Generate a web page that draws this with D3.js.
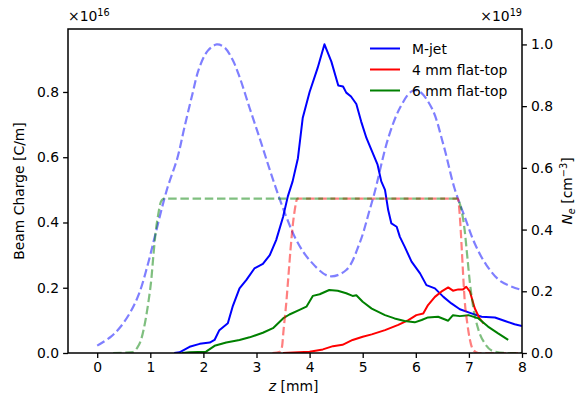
<!DOCTYPE html>
<html lang="en">
<head>
<meta charset="UTF-8">
<title>Beam charge and density profiles</title>
<script src="https://d3js.org/d3.v7.min.js"></script>
<style>
  body { margin: 0; background: #fff; }
  svg text { font-family: "DejaVu Sans", sans-serif; fill: #000; }
</style>
</head>
<body>
<div id="chart"></div>
<script>
// Beam charge (x1e16 C/m), left axis
const zMjet = [1.45, 1.55, 1.74, 1.93, 2.12, 2.21, 2.30, 2.46, 2.55, 2.68, 2.81, 2.96, 3.12, 3.25, 3.37, 3.50, 3.59, 3.68, 3.78, 3.87, 4.00, 4.15, 4.28, 4.41, 4.54, 4.63, 4.69, 4.78, 4.88, 4.97, 5.07, 5.17, 5.28, 5.35, 5.42, 5.48, 5.54, 5.64, 5.70, 5.79, 5.92, 6.08, 6.20, 6.36, 6.52, 6.67, 6.83, 7.02, 7.24, 7.49, 7.68, 7.86, 8.00];
const qMjet = [0.0, 0.002, 0.019, 0.028, 0.032, 0.04, 0.07, 0.091, 0.142, 0.198, 0.224, 0.259, 0.273, 0.30, 0.346, 0.417, 0.48, 0.526, 0.597, 0.72, 0.80, 0.873, 0.946, 0.893, 0.82, 0.817, 0.798, 0.786, 0.763, 0.71, 0.659, 0.62, 0.577, 0.526, 0.50, 0.438, 0.397, 0.387, 0.356, 0.326, 0.28, 0.244, 0.208, 0.198, 0.172, 0.152, 0.134, 0.123, 0.111, 0.109, 0.098, 0.088, 0.083];

const zFlat4 = [3.50, 4.00, 4.25, 4.44, 4.62, 4.81, 5.00, 5.17, 5.42, 5.67, 5.86, 6.01, 6.14, 6.23, 6.36, 6.48, 6.61, 6.70, 6.80, 6.89, 6.95, 7.02, 7.11, 7.20, 7.28];
const qFlat4 = [0.0, 0.004, 0.011, 0.021, 0.025, 0.04, 0.05, 0.057, 0.07, 0.086, 0.101, 0.116, 0.121, 0.147, 0.172, 0.188, 0.201, 0.191, 0.195, 0.195, 0.203, 0.188, 0.137, 0.106, 0.09];

const zFlat6 = [1.60, 1.74, 2.05, 2.21, 2.43, 2.68, 2.87, 3.12, 3.31, 3.50, 3.62, 3.81, 3.94, 4.06, 4.19, 4.37, 4.53, 4.69, 4.81, 4.88, 5.00, 5.17, 5.42, 5.60, 5.79, 5.98, 6.11, 6.23, 6.42, 6.61, 6.70, 6.83, 6.99, 7.18, 7.36, 7.55, 7.74];
const qFlat6 = [0.0, 0.002, 0.004, 0.022, 0.032, 0.04, 0.048, 0.062, 0.076, 0.106, 0.118, 0.132, 0.142, 0.175, 0.18, 0.193, 0.191, 0.183, 0.175, 0.177, 0.157, 0.136, 0.116, 0.106, 0.098, 0.094, 0.101, 0.109, 0.111, 0.099, 0.116, 0.113, 0.116, 0.106, 0.081, 0.06, 0.04];

// Plasma density (x1e19 cm^-3), right axis
const zDenMjet = [0, 0.26, 0.44, 0.63, 0.79, 0.95, 1.10, 1.31, 1.51, 1.64, 1.79, 1.92, 2.08, 2.25, 2.40, 2.55, 2.68, 2.87, 3.06, 3.24, 3.40, 3.56, 3.75, 4.00, 4.37, 4.69, 4.94, 5.13, 5.23, 5.48, 5.70, 5.92, 6.05, 6.30, 6.52, 6.73, 6.92, 7.11, 7.33, 7.61, 8.00];
const nDenMjet = [0.024, 0.053, 0.085, 0.134, 0.193, 0.285, 0.388, 0.528, 0.632, 0.729, 0.837, 0.923, 0.979, 1.0, 0.99, 0.95, 0.895, 0.794, 0.696, 0.599, 0.517, 0.442, 0.366, 0.301, 0.249, 0.269, 0.355, 0.463, 0.524, 0.696, 0.794, 0.848, 0.850, 0.794, 0.675, 0.533, 0.442, 0.355, 0.285, 0.231, 0.204];

const zDen4 = [3.30, 3.44, 3.48, 3.51, 3.56, 3.60, 3.64, 3.68, 3.72, 3.77, 6.79, 6.83, 6.86, 6.89, 6.92, 6.97, 7.02, 7.08, 7.18, 8.00];
const nDen4 = [0, 0.004, 0.02, 0.075, 0.161, 0.247, 0.334, 0.409, 0.463, 0.5, 0.5, 0.442, 0.355, 0.258, 0.172, 0.096, 0.042, 0.01, 0, 0];

const zDen6 = [0.30, 0.66, 0.75, 0.83, 0.91, 0.97, 1.02, 1.06, 1.10, 1.15, 1.20, 1.26, 6.77, 6.86, 6.92, 6.97, 7.02, 7.08, 7.18, 7.30, 7.49, 7.70, 8.00];
const nDen6 = [0, 0.003, 0.016, 0.045, 0.107, 0.172, 0.24, 0.32, 0.39, 0.45, 0.49, 0.5, 0.5, 0.463, 0.398, 0.312, 0.226, 0.15, 0.075, 0.031, 0.004, 0, 0];

const xTicks = [0, 1, 2, 3, 4, 5, 6, 7, 8];
const leftTicks = [0.0, 0.2, 0.4, 0.6, 0.8];
const rightTicks = [0.0, 0.2, 0.4, 0.6, 0.8, 1.0];

const W = 579, H = 401;
const margin = { top: 29, right: 57, bottom: 48, left: 68 };
const width = W - margin.left - margin.right;
const height = H - margin.top - margin.bottom;
const fs = 13.9;

const svg = d3.select("#chart").append("svg")
    .attr("width", W).attr("height", H);
const g = svg.append("g")
    .attr("transform", `translate(${margin.left},${margin.top})`);

const x = d3.scaleLinear().domain([-0.55, 8]).range([0, width]);
const yL = d3.scaleLinear().domain([0, 0.993]).range([height, 0]);
const yR = d3.scaleLinear().domain([0, 1.05]).range([height, 0]);

const pts = (zs, vs) => zs.map((z, i) => [z, vs[i]]);

// clip to the axes box
svg.append("defs").append("clipPath").attr("id", "clip")
  .append("rect").attr("width", width).attr("height", height);

const plot = g.append("g").attr("clip-path", "url(#clip)");

// solid charge lines
const lineL = d3.line().x(d => x(d[0])).y(d => yL(d[1]));
const solid = [
  { name: "M-jet", color: "blue", z: zMjet, v: qMjet },
  { name: "4 mm flat-top", color: "red", z: zFlat4, v: qFlat4 },
  { name: "6 mm flat-top", color: "green", z: zFlat6, v: qFlat6 }
];
solid.forEach(s => {
  plot.append("path")
    .attr("d", lineL(pts(s.z, s.v)))
    .attr("fill", "none")
    .attr("stroke", s.color)
    .attr("stroke-width", 2)
    .attr("stroke-linejoin", "round");
});

// legend (no frame)
const leg = g.append("g");
solid.forEach((s, i) => {
  const ly = 19.5 + i * 21;
  leg.append("line")
    .attr("x1", 302).attr("x2", 332)
    .attr("y1", ly).attr("y2", ly)
    .attr("stroke", s.color).attr("stroke-width", 2);
  leg.append("text")
    .attr("x", 344).attr("y", ly)
    .attr("dy", "0.36em")
    .attr("font-size", fs)
    .text(s.name);
});

// dashed density profiles on the twin axis
const smooth = d3.line().x(d => x(d[0])).y(d => yR(d[1])).curve(d3.curveCatmullRom.alpha(0.5));
const mono = d3.line().x(d => x(d[0])).y(d => yR(d[1])).curve(d3.curveMonotoneX);
const dens = [
  { color: "blue", z: zDenMjet, v: nDenMjet, line: smooth },
  { color: "red", z: zDen4, v: nDen4, line: mono },
  { color: "green", z: zDen6, v: nDen6, line: mono }
];
dens.forEach(s => {
  plot.append("path")
    .attr("d", s.line(pts(s.z, s.v)))
    .attr("fill", "none")
    .attr("stroke", s.color)
    .attr("stroke-opacity", 0.5)
    .attr("stroke-width", 2.2)
    .attr("stroke-dasharray", "8.5,3.7");
});

// axes
const fmt = d3.format(".1f");
const gx = g.append("g").attr("transform", `translate(0,${height})`)
  .call(d3.axisBottom(x).tickValues(xTicks).tickFormat(d3.format("d")).tickSize(4.9).tickPadding(4));
const gl = g.append("g")
  .call(d3.axisLeft(yL).tickValues(leftTicks).tickFormat(fmt).tickSize(4.9).tickPadding(4));
const gr = g.append("g").attr("transform", `translate(${width},0)`)
  .call(d3.axisRight(yR).tickValues(rightTicks).tickFormat(fmt).tickSize(4.9).tickPadding(4));

[gx, gl, gr].forEach(a => {
  a.select(".domain").remove();
  a.selectAll(".tick line").attr("stroke", "#000").attr("stroke-width", 1.3);
  a.selectAll(".tick text")
    .attr("font-size", fs)
    .attr("font-family", "DejaVu Sans, sans-serif");
});

// frame
g.append("rect")
  .attr("width", width).attr("height", height)
  .attr("fill", "none").attr("stroke", "#000").attr("stroke-width", 1.5);

// offset texts
const off1 = svg.append("text").attr("x", margin.left).attr("y", 21).attr("font-size", fs);
off1.append("tspan").text("\u00d710");
off1.append("tspan").attr("font-size", fs * 0.7).attr("dy", -5).text("16");

const off2 = svg.append("text").attr("x", W - margin.right).attr("y", 21)
  .attr("font-size", fs).attr("text-anchor", "end");
off2.append("tspan").text("\u00d710");
off2.append("tspan").attr("font-size", fs * 0.7).attr("dy", -5).text("19");

// axis labels
svg.append("text")
  .attr("transform", `translate(24,${margin.top + height / 2}) rotate(-90)`)
  .attr("text-anchor", "middle")
  .attr("font-size", fs)
  .text("Beam Charge [C/m]");

const rl = svg.append("text")
  .attr("transform", `translate(572,${margin.top + height / 2}) rotate(-90)`)
  .attr("text-anchor", "middle")
  .attr("font-size", fs);
rl.append("tspan").attr("font-style", "italic").text("N");
rl.append("tspan").attr("font-style", "italic").attr("font-size", fs * 0.7).attr("dy", 3).text("e");
rl.append("tspan").attr("dy", -3).text(" [cm");
rl.append("tspan").attr("font-size", fs * 0.7).attr("dy", -5).text("\u22123");
rl.append("tspan").attr("dy", 5).text("]");

const xl = svg.append("text")
  .attr("x", margin.left + x(3.7)).attr("y", 391)
  .attr("text-anchor", "middle")
  .attr("font-size", fs);
xl.append("tspan").attr("font-style", "italic").text("z");
xl.append("tspan").text(" [mm]");
</script>
</body>
</html>
